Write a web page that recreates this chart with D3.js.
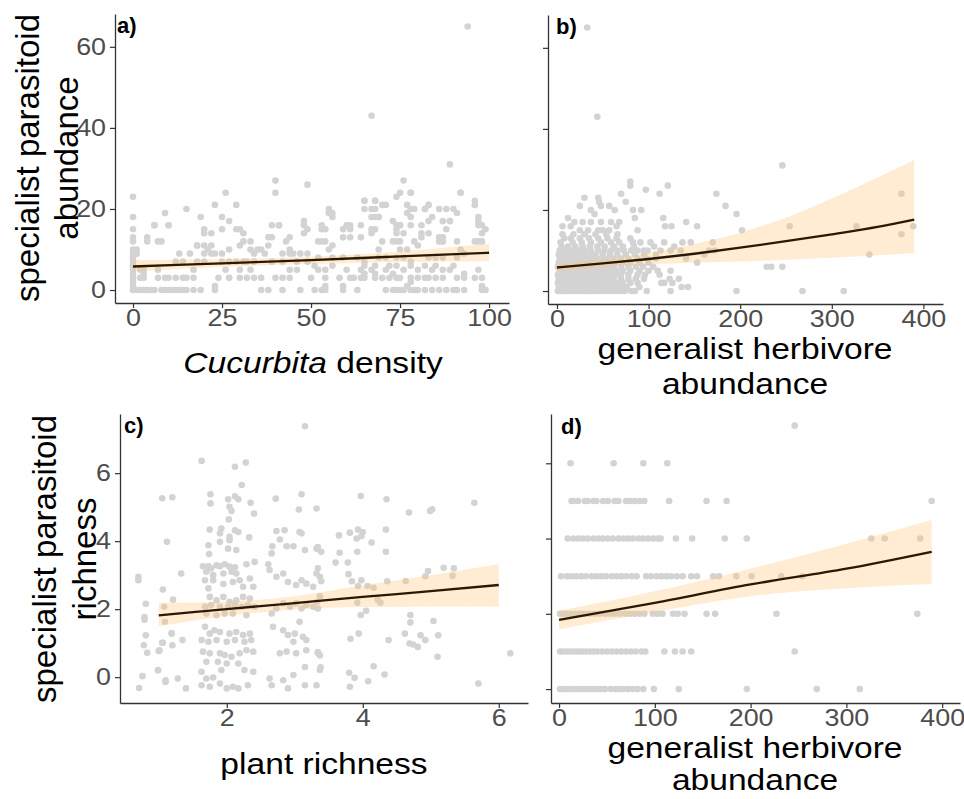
<!DOCTYPE html>
<html>
<head>
<meta charset="utf-8">
<script src="https://cdn.jsdelivr.net/npm/d3@7"></script>
<style>
  body { margin: 0; background: #fff; }
  text { font-family: "Liberation Sans", Arial, Helvetica, sans-serif; }
</style>
</head>
<body>
<div id="chart"></div>
<script>
// ---- data ----

// a) Cucurbita density vs specialist parasitoid abundance
const aPoints = [
  [0,23],[0,18],[0,15],[0,13],[0,12],[0,10],[0,9],[0,8],[0,7],[0,6],[0,5],[0,4],[0,3],[0,2],[0,1],[0,0],
  [1,10],[1,9],[2,5],[2,3],[3,4],[3,0],[1,0],[2,0],[4,0],[5,0],[6,0],[8,0],[9,0],[10,0],[11,0],[12,0],[13,0],[14,0],[15,0],[17,0],[19,0],[23,0],[23,1],
  [4,13],[6,16],[7,12],[9,19],[10,16],[15,20],[19,18],[20,15],[23,21],[26,24],[25,18],[27,17],[29,21],[29,15],[18,11],[20,11],[21,10],
  [33,12],[36,10],[40,27],[40,24],[39,16],[41,16],[38,13],[43,12],[49,26],[48,17],[49,15],[53,15],[54,15],[55,20],[56,19],[53,12],
  [60,16],[61,16],[64,16],[65,22],[67,43],[68,22],[67,20],[68,18],[69,18],[70,21],[74,23],[76,27],[78,24],[79,20],[77,19],
  [83,21],[82,20],[84,18],[86,20],[89,31],[87,17],[89,17],[90,20],[92,24],[94,65],[96,22],[97,18],[98,16],[99,15],
  [74,16],[75,16],[74,15],[73,12],[75,12],[83,14],[86,13],[87,12],[98,12],[97,12],
  [36,0],[38,0],[42,0],[47,0],[51,0],[53,0],[54,0],[59,0],[63,0],[71,0],[73,0],[74,0],[75,0],[76,0],[78,0],[79,0],[80,0],[82,0],[84,0],[86,0],[88,0],[90,0],[91,0],[93,0],[98,0],[99,0],
  [3,3],[7,3],[9,3],[10,3],[12,3],[14,3],[15,3],[17,3],[24,3],[27,3],[30,3],[32,3],[34,3],[36,3],[40,3],[42,3],[44,3],
  [3,5],[7,5],[17,5],[26,5],[30,5],[33,5],[44,5],[46,5],
  [12,7],[14,7],[18,7],[20,7],[25,7],[27,7],[29,7],[31,7],[32,7],[34,7],[39,7],[42,7],[46,7],[49,7],
  [1,9],[13,9],[16,9],[20,9],[22,9],[23,9],[25,9],[34,9],[37,9],[42,9],[44,9],[45,9],[47,9],[49,9],
  [18,11],[22,11],[27,10],[30,11],[33,10],[35,10],[38,11],[44,10],
  [4,12],[8,12],[31,12],[39,13],[44,13],
  [20,14],[22,14],[25,15],[30,15],[31,14],[48,14],
  [6,16],[10,16],[41,16],[48,16],
  [54,1],[59,1],[77,1],[78,2],[98,1],
  [50,3],[54,3],[58,3],[61,3],[62,3],[64,3],[65,3],[68,3],[70,3],[72,3],[74,3],[75,3],[78,3],[80,3],[82,3],[83,3],[85,3],[87,3],[91,3],[93,3],[96,3],[98,3],
  [52,5],[54,5],[60,5],[64,5],[65,4],[67,5],[68,4],[71,5],[73,4],[76,5],[80,5],[84,5],[87,5],[89,5],[93,4],[97,5],
  [51,6],[56,6],[65,6],[68,6],[72,6],[74,6],[78,6],[82,6],[85,6],[90,6],
  [52,8],[56,8],[59,8],[63,8],[65,7],[69,8],[71,8],[74,8],[76,8],[78,7],[83,8],[85,8],[87,8],[91,8],[93,9],
  [55,10],[69,10],[75,10],[77,10],[80,11],[92,10],
  [52,12],[54,12],[56,11],[70,12],[74,12],[79,12],[81,13],[86,12],[87,12],[91,12],[96,12],
  [59,13],[61,13],[64,13],[67,14],[74,14],[76,14],[81,14],[87,13],
  [53,16],[59,15],[61,15],[67,15],[68,15],[75,16],[78,16],[81,16],[88,15],[97,16],[98,14],
  [56,18],[67,18],[69,18],[73,17],[78,18],[83,17],[89,17],[97,17],
  [55,19],[65,20],[68,20],[71,21],[77,21],[78,20],[82,20],[83,21],[88,20],[91,19],[96,21],
  [65,22],[68,22],[75,24],[78,24],[92,24]
];
const aFitX  = [0, 25, 50, 75, 100];
const aFitY  = [5.8, 6.6, 7.4, 8.3, 9.2];
const aFitLo = [4.6, 5.7, 6.4, 6.9, 7.1];
const aFitHi = [7.4, 7.6, 8.2, 9.5, 11.4];

// b) generalist herbivore abundance vs specialist parasitoid abundance
// rows: [abundance, [herbivore values ...]]
const bRows = [
  [0, [1,4,7,10,13,16,19,22,25,28,31,34,37,40,43,46,50,54,58,62,66,70,74,81,85,98,124,196,268,313]],
  [1, [2,6,10,14,18,22,26,30,34,38,42,46,52,58,64,70,76,90,136,143]],
  [2, [1,5,9,13,17,21,25,29,33,37,41,45,50,55,60,66,72,80,88,114,117,126]],
  [3, [2,6,10,14,18,22,26,30,35,40,45,50,55,62,70,78,86,95,123,133]],
  [4, [1,5,9,13,17,21,25,30,35,40,46,52,58,64,70,78,88,96,112]],
  [5, [3,7,11,15,19,24,29,34,40,46,52,58,65,72,80,90,100,110,124]],
  [6, [1,5,9,14,19,24,30,36,42,48,55,62,70,78,86,94,105,229,234,246]],
  [7, [2,6,11,16,21,26,32,38,44,50,57,64,72,80,90,100,153]],
  [8, [3,8,13,18,24,30,36,42,48,55,62,70,78,88,98,108,141]],
  [9, [2,7,12,18,24,30,36,42,50,58,66,75,85,95,108,161,341]],
  [10, [3,10,16,23,30,37,45,52,59,66,73,81,88,95,99,113,124,135,166,172]],
  [11, [5,12,20,28,36,44,52,62,72,84,106,128]],
  [12, [4,17,27,37,48,59,68,83,91,102,117,137,146,170]],
  [13, [8,15,25,35,45,55,65,80]],
  [14, [6,18,30,42,54,66,376]],
  [15, [25,34,45,50,57,88,202]],
  [16, [6,15,65,118,125,153,254,327,389]],
  [17, [19,28,37,48,59,68,141]],
  [18, [12,85,116]],
  [19, [41,196]],
  [20, [37,63,83,92]],
  [21, [25,48,57,184]],
  [22, [46,75]],
  [23, [30,45]],
  [24, [70,112,174,376]],
  [25, [97]],
  [26, [80,121]],
  [27, [80]],
  [31, [246]],
  [43, [44]],
  [65, [33]]
];
const bFitX  = [0, 50, 100, 150, 200, 250, 300, 350, 390];
const bFitY  = [5.8, 6.8, 7.9, 9.2, 10.7, 12.3, 14.0, 15.8, 17.6];
const bFitLo = [4.8, 5.9, 6.6, 7.0, 7.3, 7.7, 8.2, 8.8, 9.4];
const bFitHi = [6.9, 7.8, 9.4, 11.6, 14.4, 18.1, 22.8, 28.0, 32.3];

// c) plant richness vs specialist parasitoid richness (jittered)
const cPoints = [
  [0.70,2.95],[0.70,2.85],[0.76,0.03],[0.71,-0.32],[0.81,2.16],[0.79,1.77],[0.79,1.69],[0.81,1.23],[0.78,0.94],[0.83,0.72],
  [0.99,0.20],[1.00,0.77],[1.05,1.01],[1.05,5.26],[1.20,5.29],[1.12,3.98],[1.06,2.58],[1.08,2.07],[1.09,1.63],[1.10,-0.14],
  [1.19,1.28],[1.20,0.94],[1.28,-0.04],[1.33,3.05],[1.35,1.09],[1.40,-0.33],
  [1.63,6.36],[2.12,6.19],[2.28,6.31],[2.22,5.65],[1.76,5.38],[1.76,5.11],[2.02,5.23],[2.12,5.32],[2.17,5.23],[2.04,5.01],
  [2.07,4.89],[2.35,5.13],[2.40,4.81],[2.03,4.64],[2.72,5.25],[3.06,4.93],[3.10,5.38],[3.32,4.96],
  [1.75,4.34],[1.90,4.23],[1.92,4.37],[2.04,4.13],[2.12,4.32],[2.17,4.27],[1.90,3.98],[2.04,4.03],[2.02,3.78],[2.14,3.74],
  [1.73,3.88],[1.74,3.62],[2.33,4.11],[2.73,4.30],[2.85,4.32],[2.78,4.05],[2.67,3.85],[2.66,3.64],[2.88,3.85],[2.98,3.85],
  [3.07,4.27],[3.10,4.23],[3.15,3.74],[3.32,3.78],
  [1.65,3.26],[1.73,3.26],[1.77,3.20],[1.85,3.29],[1.90,3.26],[1.97,3.32],[2.04,3.25],[2.12,3.23],[1.70,3.10],[1.80,3.00],
  [1.95,3.05],[2.07,3.10],[2.14,3.05],[2.29,3.32],[2.41,3.39],[1.68,2.85],[1.80,2.85],[1.95,2.74],[2.09,2.80],[2.19,2.85],
  [2.34,2.90],[2.39,2.66],[2.24,2.66],[1.73,2.61],[2.61,3.32],[2.63,3.15],[2.73,2.95],[2.83,3.05],[2.90,2.80],[3.02,2.71],
  [3.10,2.85],[3.17,2.75],[3.27,2.66],
  [1.75,2.36],[1.85,2.26],[1.95,2.36],[2.04,2.22],[2.14,2.26],[2.24,2.36],[2.34,2.31],[1.68,2.07],[1.77,2.12],[1.90,2.07],
  [2.02,2.07],[2.12,2.12],[2.22,2.07],[2.31,2.12],[2.41,2.07],[1.70,1.87],[1.85,1.82],[1.97,1.87],[2.09,1.87],[2.29,1.82],
  [2.66,1.87],[2.73,2.02],[2.83,2.17],[2.93,2.07],[3.02,2.17],[3.10,2.02],[3.17,2.12],[3.27,2.07],[3.34,2.02],[1.21,2.28],
  [1.68,1.48],[1.75,1.28],[1.82,1.38],[1.90,1.33],[2.04,1.28],[2.14,1.33],[2.24,1.24],[2.34,1.28],[1.63,1.09],[1.73,1.04],
  [1.85,1.09],[2.00,1.04],[2.12,1.09],[2.26,1.04],[2.36,1.09],[2.68,1.48],[2.83,1.38],[2.90,1.24],[3.00,1.28],[3.07,1.63],
  [3.12,1.19],[2.98,1.04],[3.17,1.09],[1.19,1.30],[1.06,1.01],[1.01,0.79],
  [1.65,0.75],[1.75,0.70],[1.90,0.70],[1.97,0.65],[2.07,0.60],[2.19,0.70],[2.29,0.79],[2.39,0.75],[1.70,0.45],[1.87,0.45],
  [2.00,0.40],[2.17,0.40],[1.92,0.21],[2.26,0.21],[2.39,0.16],[1.63,0.16],[2.78,0.70],[2.88,0.75],[3.02,0.70],[3.17,0.79],
  [3.34,0.70],[3.15,0.30],[3.37,0.21],[0.99,0.21],[1.10,-0.09],
  [1.63,-0.24],[1.70,-0.04],[1.80,-0.01],[1.90,-0.19],[2.00,-0.33],[2.09,-0.28],[2.17,-0.33],[1.75,-0.28],[2.31,-0.24],[2.63,-0.04],
  [2.66,-0.24],[2.83,-0.09],[2.90,-0.33],[2.98,0.06],[3.15,-0.24],
  [3.15,7.38],[3.97,5.33],[4.35,5.23],[4.68,4.84],[4.99,4.89],[5.02,4.94],[5.64,5.13],
  [3.34,3.83],[3.39,3.69],[3.65,4.17],[3.81,4.25],[3.93,4.34],[4.00,4.27],[3.91,4.08],[3.98,4.15],[4.34,4.34],[4.13,3.96],
  [3.66,3.66],[3.92,3.69],[4.34,3.69],[3.60,3.37],[3.78,3.37],[3.34,3.20],[3.32,3.05],[3.37,2.95],[3.79,3.03],[3.84,2.82],
  [3.98,2.85],[3.39,2.82],[4.36,2.82],[4.63,2.83],[4.92,2.97],[4.96,3.12],[5.19,3.22],[5.34,3.20],[5.32,2.98],
  [3.93,2.68],[4.07,2.68],[4.16,2.63],[3.37,2.38],[3.33,2.22],[4.22,2.28],[4.26,2.19],[3.92,2.19],[4.05,1.95],[3.97,1.83],
  [4.70,1.83],[4.70,1.61],[5.04,1.65],[3.82,1.13],[3.94,1.28],[4.38,1.09],[4.62,1.28],[4.69,0.99],[4.74,0.96],[4.81,0.89],
  [4.85,1.23],[4.92,1.09],[5.11,1.23],[5.10,0.60],[3.34,0.74],[3.37,0.64],[3.38,0.29],[3.32,-0.24],[3.80,0.13],[3.88,-0.02],
  [3.81,-0.28],[4.08,-0.12],[4.16,0.32],[4.32,0.08],[5.70,-0.19],[6.17,0.70]
];
const cFitX  = [1, 2, 3, 4, 5, 6];
const cFitY  = [1.82, 2.00, 2.18, 2.36, 2.53, 2.71];
const cFitLo = [1.50, 1.80, 1.99, 2.06, 2.08, 2.07];
const cFitHi = [2.19, 2.22, 2.38, 2.70, 3.00, 3.32];

// d) generalist herbivore abundance vs specialist parasitoid richness
// rows: [richness, [herbivore values ...]]
const dRows = [
  [0, [1,4,8,12,16,20,24,28,32,36,40,44,48,54,59,63,67,72,77,82,88,99,125,196,269,314]],
  [1, [1,4,8,12,16,20,24,28,32,36,40,45,50,55,60,65,70,75,80,86,90,110,121,129,138,246]],
  [2, [1,4,8,12,16,20,24,28,32,37,42,48,53,58,63,69,74,79,84,89,98,103,108,119,124,131,154,163,227,374]],
  [3, [2,8,13,18,23,28,34,39,44,49,55,60,65,70,76,81,91,96,102,107,112,117,123,129,138,144,161,167,185,201,232,254]],
  [4, [9,15,20,25,30,36,41,46,51,56,62,67,72,77,83,88,93,98,103,106,122,139,173,196,326,340,377]],
  [5, [13,15,20,27,30,36,39,46,51,58,62,70,74,79,84,89,115,154,175,389]],
  [6, [12,57,88,113]],
  [7, [246]]
];
const dFitX  = [0, 100, 200, 300, 389];
const dFitY  = [1.84, 2.29, 2.78, 3.20, 3.65];
const dFitLo = [1.59, 2.05, 2.47, 2.68, 2.79];
const dFitHi = [2.08, 2.60, 3.20, 3.86, 4.49];

const herbTicks = [0, 100, 200, 300, 400];

// ---- drawing ----
const svg = d3.select("#chart").append("svg")
  .attr("width", 964)
  .attr("height", 799);

const bPoints = bRows.flatMap(r => r[1].map(v => [v, r[0]]));
const dPoints = dRows.flatMap(r => r[1].map(v => [v, r[0]]));

// the figure's text is slightly wider than tall
const STRETCH = 1.12;

const panels = [
  { points: aPoints, fitX: aFitX, fitY: aFitY, fitLo: aFitLo, fitHi: aFitHi,
    xDomain: [-5.06, 105.6], yDomain: [-3.2, 68.1], xTicks: [0, 25, 50, 75, 100], yTicks: [0, 20, 40, 60],
    yLabels: true, left: 115, right: 509, top: 14, bottom: 303, label: "a)", labelX: 117, labelY: 33 },
  { points: bPoints, fitX: bFitX, fitY: bFitY, fitLo: bFitLo, fitHi: bFitHi,
    xDomain: [-9.8, 421.4], yDomain: [-3.2, 68.1], xTicks: herbTicks, yTicks: [0, 20, 40, 60],
    yLabels: false, left: 548, right: 943, top: 15, bottom: 304, label: "b)", labelX: 556, labelY: 34 },
  { points: cPoints, fitX: cFitX, fitY: cFitY, fitLo: cFitLo, fitHi: cFitHi,
    xDomain: [0.43, 6.43], yDomain: [-0.76, 7.74], xTicks: [2, 4, 6], yTicks: [0, 2, 4, 6],
    yLabels: true, left: 120, right: 528, top: 414, bottom: 703, label: "c)", labelX: 124, labelY: 433 },
  { points: dPoints, fitX: dFitX, fitY: dFitY, fitLo: dFitLo, fitHi: dFitHi,
    xDomain: [-8.4, 418.6], yDomain: [-0.37, 7.31], xTicks: herbTicks, yTicks: [0, 2, 4, 6],
    yLabels: false, left: 551, right: 960, top: 414, bottom: 703, label: "d)", labelX: 561, labelY: 434 }
];

function drawPanel(p) {
  const x = d3.scaleLinear().domain(p.xDomain).range([p.left, p.right]);
  const y = d3.scaleLinear().domain(p.yDomain).range([p.bottom, p.top]);
  const g = svg.append("g");

  // points
  g.append("g").selectAll("circle")
    .data(p.points)
    .join("circle")
    .attr("cx", d => x(d[0]))
    .attr("cy", d => y(d[1]))
    .attr("r", 3.3)
    .attr("fill", "#d3d3d3");

  const fit = p.fitX.map((v, i) => ({ x: v, y: p.fitY[i], lo: p.fitLo[i], hi: p.fitHi[i] }));

  // confidence band, drawn over the points
  g.append("path")
    .datum(fit)
    .attr("fill", "#ffc47a")
    .attr("fill-opacity", 0.33)
    .attr("d", d3.area()
      .x(d => x(d.x))
      .y0(d => y(d.lo))
      .y1(d => y(d.hi))
      .curve(d3.curveMonotoneX));

  // fitted line
  g.append("path")
    .datum(fit)
    .attr("fill", "none")
    .attr("stroke", "#2b1804")
    .attr("stroke-width", 2.3)
    .attr("d", d3.line()
      .x(d => x(d.x))
      .y(d => y(d.y))
      .curve(d3.curveMonotoneX));

  // axes
  const xAxis = g.append("g")
    .attr("transform", "translate(0," + p.bottom + ")")
    .call(d3.axisBottom(x).tickValues(p.xTicks).tickSize(5).tickSizeOuter(0).tickPadding(1)
      .tickFormat(d3.format("d")));
  const yAxis = g.append("g")
    .attr("transform", "translate(" + p.left + ",0)")
    .call(d3.axisLeft(y).tickValues(p.yTicks).tickSize(5).tickSizeOuter(0).tickPadding(3)
      .tickFormat(p.yLabels ? d3.format("d") : () => ""));

  [xAxis, yAxis].forEach(ax => {
    ax.select(".domain").attr("stroke", "#333").attr("stroke-width", 1.3);
    ax.selectAll(".tick line").attr("stroke", "#333").attr("stroke-width", 1.2);
    ax.selectAll(".tick text")
      .attr("fill", "#4d4d4d")
      .style("font-size", "24px")
      .style("font-family", '"Liberation Sans", Arial, sans-serif');
  });
  xAxis.selectAll(".tick text").attr("transform", "scale(" + STRETCH + ",1)");
  yAxis.selectAll(".tick text").attr("transform", "scale(" + STRETCH + ",1)");

  // panel label
  g.append("text")
    .attr("x", p.labelX)
    .attr("y", p.labelY)
    .style("font-size", "22px")
    .style("font-weight", "bold")
    .attr("fill", "#000")
    .text(p.label);
}

panels.forEach(drawPanel);

// axis titles
function xTitle(cx, baselines, lines) {
  lines.forEach((t, i) => {
    svg.append("text")
      .attr("transform", "translate(" + cx + "," + baselines[i] + ") scale(" + STRETCH + ",1)")
      .attr("text-anchor", "middle")
      .style("font-size", "30px")
      .attr("fill", "#000")
      .text(t);
  });
}

function yTitle(cy, baselines, lines) {
  lines.forEach((t, i) => {
    svg.append("text")
      .attr("transform", "translate(" + baselines[i] + "," + cy + ") rotate(-90)")
      .attr("text-anchor", "middle")
      .style("font-size", "33px")
      .attr("fill", "#000")
      .text(t);
  });
}

// a) x title with italic genus name
const aTitle = svg.append("text")
  .attr("transform", "translate(313,373) scale(" + STRETCH + ",1)")
  .attr("text-anchor", "middle")
  .style("font-size", "30px")
  .attr("fill", "#000");
aTitle.append("tspan").style("font-style", "italic").text("Cucurbita");
aTitle.append("tspan").text(" density");

xTitle(745, [359, 394], ["generalist herbivore", "abundance"]);
xTitle(324, [774], ["plant richness"]);
xTitle(755, [758, 790], ["generalist herbivore", "abundance"]);

yTitle(158, [39, 78], ["specialist parasitoid", "abundance"]);
yTitle(559, [56, 96], ["specialist parasitoid", "richness"]);
</script>
</body>
</html>
